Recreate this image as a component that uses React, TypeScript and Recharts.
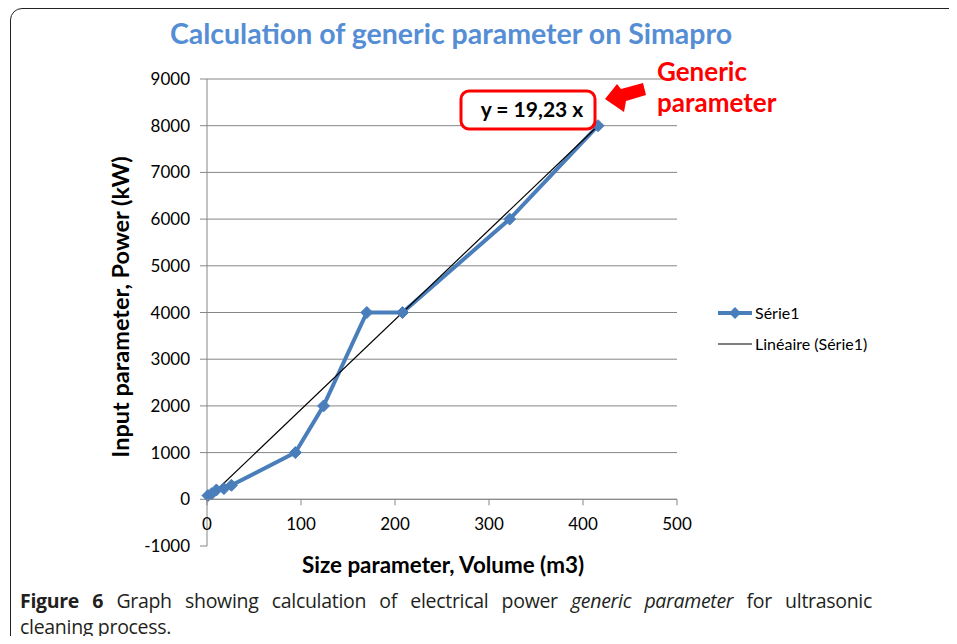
import { CartesianGrid, Line, LineChart, XAxis, YAxis } from "recharts"

const seriesX = [1, 5, 10, 18, 26, 94, 124, 170, 208, 322, 416]
const seriesY = [80, 120, 200, 230, 300, 1000, 2000, 4000, 4000, 6000, 8000]
const trendSlope = 19.23
const trendRange = [0, 416]
const xTicks = [0, 100, 200, 300, 400, 500]
const yTicks = [-1000, 0, 1000, 2000, 3000, 4000, 5000, 6000, 7000, 8000, 9000]

const serie1 = seriesX.map((x, i) => ({ x, y: seriesY[i] }))
const trend = trendRange.map((x) => ({ x, y: trendSlope * x }))

const W = 957
const H = 644
const PLOT_LEFT = 207
const PLOT_TOP = 79
const PLOT_RIGHT = 677
const PLOT_BOTTOM = 546
const Y_AXIS_W = 60
const X_AXIS_H = 20
const Y_MIN = yTicks[0]
const Y_MAX = yTicks[yTicks.length - 1]
const ZERO_Y = PLOT_TOP + ((PLOT_BOTTOM - PLOT_TOP) * Y_MAX) / (Y_MAX - Y_MIN)

const BLUE = "#4A7EBB"
const GRID = "#868686"
const FONT = "Lato, 'Open Sans', sans-serif"

function Diamond(props: any) {
  const { cx, cy, index } = props
  if (cx == null || cy == null) return null
  const r = 6
  return (
    <polygon
      key={`d-${index}`}
      points={`${cx},${cy - r} ${cx + r},${cy} ${cx},${cy + r} ${cx - r},${cy}`}
      fill={BLUE}
      stroke={BLUE}
    />
  )
}

function XTick(props: any) {
  const { x, payload } = props
  return (
    <g>
      <line x1={x} x2={x} y1={ZERO_Y} y2={ZERO_Y + 6} stroke={GRID} />
      <text x={x} y={ZERO_Y + 31} textAnchor="middle" fontSize={17} fill="#000" fontFamily={FONT}>
        {payload.value}
      </text>
    </g>
  )
}

export default function App() {
  return (
    <div style={{ position: "relative", width: W, height: H, margin: -8, overflow: "hidden", background: "#fff", fontFamily: FONT }}>
      <div
        style={{
          position: "absolute",
          left: 10,
          top: 8,
          width: 1000,
          height: 700,
          border: "1.5px solid #222",
          borderRadius: 12,
        }}
      />
      <div
        style={{
          position: "absolute",
          left: 0,
          width: 902,
          top: 16,
          textAlign: "center",
          color: "#558ED5",
          fontWeight: 700,
          fontSize: 28.5,
        }}
      >
        Calculation of generic parameter on Simapro
      </div>
      <div style={{ position: "absolute", left: 0, top: 0 }}>
        <LineChart
          width={W}
          height={H}
          margin={{
            top: PLOT_TOP,
            right: W - PLOT_RIGHT,
            bottom: H - PLOT_BOTTOM - X_AXIS_H,
            left: PLOT_LEFT - Y_AXIS_W,
          }}
        >
          <CartesianGrid horizontal vertical={false} stroke={GRID} horizontalValues={yTicks.filter((v) => v > Y_MIN)} />
          <XAxis
            type="number"
            dataKey="x"
            domain={[xTicks[0], xTicks[xTicks.length - 1]]}
            ticks={xTicks}
            axisLine={false}
            tickLine={false}
            height={X_AXIS_H}
            tick={<XTick />}
            interval={0}
          />
          <YAxis
            type="number"
            dataKey="y"
            domain={[Y_MIN, Y_MAX]}
            ticks={yTicks}
            width={Y_AXIS_W}
            interval={0}
            axisLine={{ stroke: GRID }}
            tickLine={{ stroke: GRID }}
            tickSize={7}
            tickMargin={10}
            tick={{ fill: "#000", fontSize: 17, fontFamily: FONT }}
          />
          <Line
            data={serie1}
            dataKey="y"
            stroke={BLUE}
            strokeWidth={4}
            dot={<Diamond />}
            activeDot={false}
            isAnimationActive={false}
          />
          <Line
            data={trend}
            dataKey="y"
            stroke="#000"
            strokeWidth={1.2}
            dot={false}
            activeDot={false}
            isAnimationActive={false}
          />
        </LineChart>
      </div>
      <svg style={{ position: "absolute", left: 0, top: 0 }} width={W} height={H}>
        <line x1={PLOT_LEFT} x2={PLOT_RIGHT} y1={ZERO_Y} y2={ZERO_Y} stroke={GRID} />
        <rect x={461} y={91} width={134} height={38} rx={8} fill="#fff" stroke="#FF0000" strokeWidth={3} />
        <text x={532} y={117} textAnchor="middle" fontSize={21} fontWeight={700} fill="#000" fontFamily={FONT}>
          y = 19,23 x
        </text>
        <polygon points="605,99 617,84 621,89 643,83 646,95 626,101 624,112" fill="#FF0000" />
        <text x={657} y={81} fontSize={26} fontWeight={700} fill="#FF0000" fontFamily={FONT}>
          Generic
        </text>
        <text x={657} y={112} fontSize={26} fontWeight={700} fill="#FF0000" fontFamily={FONT}>
          parameter
        </text>
        <line x1={718} x2={752} y1={313} y2={313} stroke={BLUE} strokeWidth={4} />
        <polygon points="735,307 741,313 735,319 729,313" fill={BLUE} />
        <text x={755} y={319} fontSize={16} fill="#000" fontFamily={FONT}>
          Série1
        </text>
        <line x1={718} x2={752} y1={344} y2={344} stroke="#000" strokeWidth={1.2} />
        <text x={755} y={350} fontSize={16} fill="#000" fontFamily={FONT}>
          Linéaire (Série1)
        </text>
        <text x={443} y={573} textAnchor="middle" fontSize={22.4} fontWeight={700} fill="#000" fontFamily={FONT}>
          Size parameter, Volume (m3)
        </text>
        <text
          x={0}
          y={0}
          transform="translate(129,307) rotate(-90)"
          textAnchor="middle"
          fontSize={23.5}
          fontWeight={700}
          fill="#000"
          fontFamily={FONT}
        >
          Input parameter, Power (kW)
        </text>
      </svg>
      <div
        style={{
          position: "absolute",
          left: 20,
          top: 588,
          width: 852,
          fontFamily: "'Open Sans', sans-serif",
          fontSize: 19.5,
          lineHeight: "26px",
          color: "#231F20",
          letterSpacing: -0.3,
        }}
      >
        <div style={{ textAlign: "justify", textAlignLast: "justify" as any, whiteSpace: "nowrap" as any }}>
          <b>Figure 6</b> Graph showing calculation of electrical power <i>generic parameter</i> for ultrasonic
        </div>
        <div>cleaning process.</div>
      </div>
    </div>
  )
}
